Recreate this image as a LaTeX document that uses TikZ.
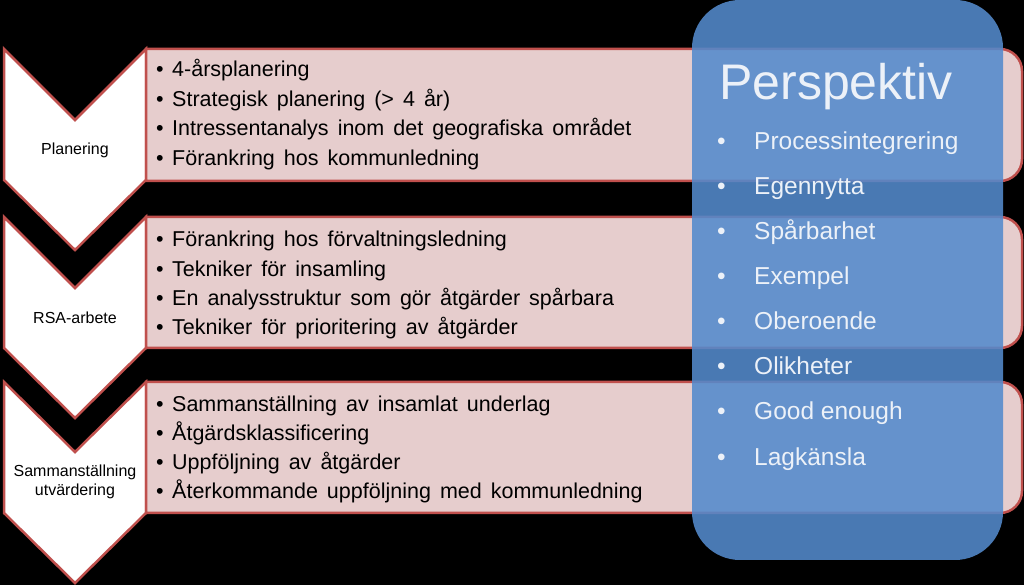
\documentclass[tikz,border=0pt]{standalone}
\usepackage{fontspec}
\setmainfont{Liberation Sans}
\newcommand\myitemfont{\fontsize{21.5}{25}\selectfont\spaceskip 0.42em\relax}
\begin{document}
\begin{tikzpicture}[x=1pt,y=1pt,
  chev/.style={draw=redline,fill=white,line width=2.5pt,line join=miter},
  pinkbox/.style={draw=redline,fill=pinkfill,line width=2.5pt},
  bluebox/.style={fill=bluefill,fill opacity=0.88,rounded corners=48pt},
  lefttxt/.style={font=\fontsize{16}{19}\selectfont,align=center,text=black},
  itemtxt/.style={anchor=base west,inner sep=0pt,font=\myitemfont,text=black},
  perstxt/.style={anchor=base west,inner sep=0pt,font=\fontsize{24.5}{28}\selectfont,text=perswhite},
  titletxt/.style={anchor=base west,inner sep=0pt,font=\fontsize{50}{56}\selectfont,text=perswhite}]
\definecolor{redline}{HTML}{C0504D}
\definecolor{pinkfill}{HTML}{E6CDCD}
\definecolor{bluefill}{RGB}{84,138,204}
\definecolor{perswhite}{RGB}{236,241,248}
\fill[black] (0,0) rectangle (1024,585);
\useasboundingbox (0,0) rectangle (1024,585);
% chevrons
\draw[chev] (4,536) -- (75,465) -- (146,536) -- (146,405) -- (75,335) -- (4,405) -- cycle;
\draw[chev] (4,368) -- (75,297) -- (146,368) -- (146,237) -- (75,167) -- (4,237) -- cycle;
\draw[chev] (4,203) -- (75,133) -- (146,203) -- (146,72) -- (75,2) -- (4,72) -- cycle;
\node[lefttxt] (l1) at (75,435) {Planering};
\node[lefttxt] (l2) at (75,267) {RSA-arbete};
\node[lefttxt] (l3) at (75,103) {Sammanställning\\utvärdering};
% pink boxes
\draw[pinkbox] (146,404) -- (146,536) -- (1000,536) arc[start angle=90,end angle=0,radius=22] -- (1022,426) arc[start angle=0,end angle=-90,radius=22] -- cycle;
\draw[pinkbox] (146,237) -- (146,368) -- (1000,368) arc[start angle=90,end angle=0,radius=22] -- (1022,259) arc[start angle=0,end angle=-90,radius=22] -- cycle;
\draw[pinkbox] (146,72) -- (146,203) -- (1000,203) arc[start angle=90,end angle=0,radius=22] -- (1022,94) arc[start angle=0,end angle=-90,radius=22] -- cycle;
% texts box 1
\node[itemtxt] (a1) at (156,508) {\makebox[16pt][l]{•}4-årsplanering};
\node[itemtxt] (a2) at (156,478.5) {\makebox[16pt][l]{•}Strategisk planering (> 4 år)};
\node[itemtxt] (a3) at (156,449) {\makebox[16pt][l]{•}Intressentanalys inom det geografiska området};
\node[itemtxt] (a4) at (156,419.5) {\makebox[16pt][l]{•}Förankring hos kommunledning};
% box 2
\node[itemtxt] (b1) at (156,338) {\makebox[16pt][l]{•}Förankring hos förvaltningsledning};
\node[itemtxt] (b2) at (156,308.5) {\makebox[16pt][l]{•}Tekniker för insamling};
\node[itemtxt] (b3) at (156,279) {\makebox[16pt][l]{•}En analysstruktur som gör åtgärder spårbara};
\node[itemtxt] (b4) at (156,250) {\makebox[16pt][l]{•}Tekniker för prioritering av åtgärder};
% box 3
\node[itemtxt] (c1) at (156,173) {\makebox[16pt][l]{•}Sammanställning av insamlat underlag};
\node[itemtxt] (c2) at (156,144.5) {\makebox[16pt][l]{•}Åtgärdsklassificering};
\node[itemtxt] (c3) at (156,115) {\makebox[16pt][l]{•}Uppföljning av åtgärder};
\node[itemtxt] (c4) at (156,86.5) {\makebox[16pt][l]{•}Återkommande uppföljning med kommunledning};
% blue box
\fill[bluebox] (692,25) rectangle (1003,585);
\node[titletxt] (t) at (719,485) {Perspektiv};
\node[perstxt] (p1) at (717,435) {\makebox[37pt][l]{•}Processintegrering};
\node[perstxt] (p2) at (717,390) {\makebox[37pt][l]{•}Egennytta};
\node[perstxt] (p3) at (717,345) {\makebox[37pt][l]{•}Spårbarhet};
\node[perstxt] (p4) at (717,300) {\makebox[37pt][l]{•}Exempel};
\node[perstxt] (p5) at (717,255) {\makebox[37pt][l]{•}Oberoende};
\node[perstxt] (p6) at (717,210) {\makebox[37pt][l]{•}Olikheter};
\node[perstxt] (p7) at (717,165) {\makebox[37pt][l]{•}Good enough};
\node[perstxt] (p8) at (717,119) {\makebox[37pt][l]{•}Lagkänsla};
\end{tikzpicture}
\end{document}
